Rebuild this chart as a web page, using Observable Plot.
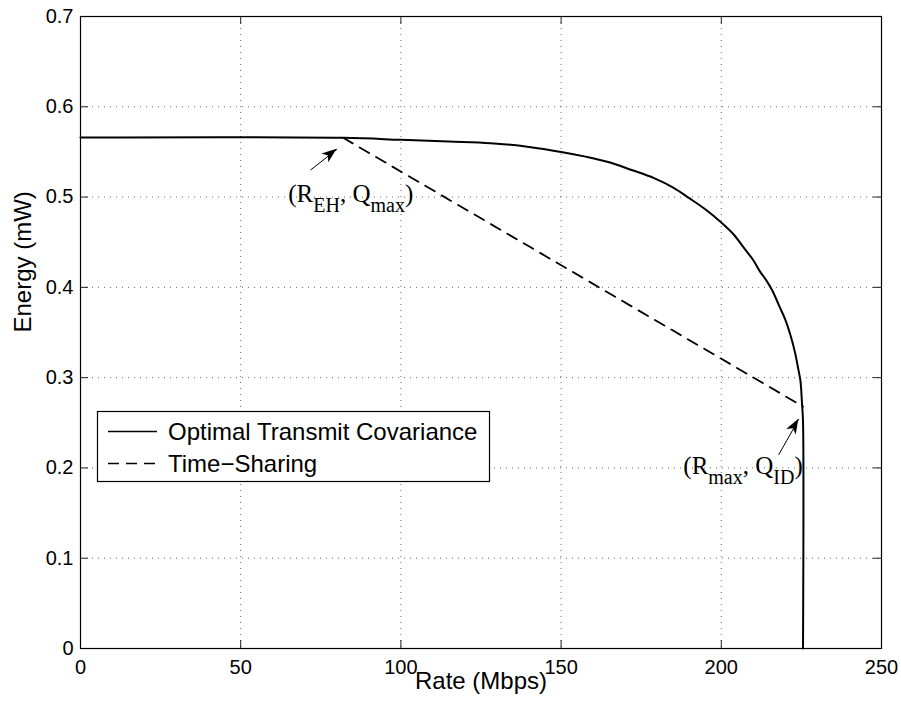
<!DOCTYPE html>
<html>
<head>
<meta charset="utf-8">
<script src="https://cdn.jsdelivr.net/npm/d3@7"></script>
<script src="https://cdn.jsdelivr.net/npm/@observablehq/plot@0.6"></script>
<style>
  html, body { margin: 0; padding: 0; background: #fff; }
  #wrap { position: relative; width: 901px; height: 702px; }
  #legend { position: absolute; left: 0; top: 0; pointer-events: none; }
</style>
</head>
<body>
<div id="wrap"></div>
<script>
// ---- data ----
const optRate   = [0, 82, 100, 115, 128, 140, 150, 158, 165, 172, 179, 185, 190, 195, 200, 204, 207, 210, 212, 214, 216, 218, 220, 221.5, 223, 224, 224.7, 225.2, 225.5, 225.5];
const optEnergy = [0.566, 0.5656, 0.5634, 0.5615, 0.5597, 0.5555, 0.550, 0.5445, 0.5385, 0.530, 0.521, 0.5105, 0.4988, 0.4865, 0.4718, 0.458, 0.444, 0.430, 0.418, 0.408, 0.396, 0.380, 0.364, 0.348, 0.328, 0.310, 0.2965, 0.2707, 0.252, 0];

const tsRate   = [82, 225.5];
const tsEnergy = [0.5656, 0.268];

const xTicks = [0, 50, 100, 150, 200, 250];
const xTickLabels = ["0", "50", "100", "150", "200", "250"];
const yTicks = [0, 0.1, 0.2, 0.3, 0.4, 0.5, 0.6, 0.7];
const yTickLabels = ["0", "0.1", "0.2", "0.3", "0.4", "0.5", "0.6", "0.7"];

const seriesNames = ["Optimal Transmit Covariance", "Time\u2212Sharing"];
const seriesDash = [null, "11,7"];
const xLabel = "Rate (Mbps)";
const yLabel = "Energy (mW)";

// annotation arrows (tail -> tip) and labels, in data units
const arrowX1 = [71.8, 217.9];
const arrowY1 = [0.530, 0.2145];
const arrowX2 = [80.1, 224.2];
const arrowY2 = [0.553, 0.254];
const annX = [65.0, 188.3];
const annY = [0.4936, 0.1929];
const annParts = [
  [["(R", false], ["EH", true], [", Q", false], ["max", true], [")", false]],
  [["(R", false], ["max", true], [", Q", false], ["ID", true], [")", false]]
];

// ---- tables built from the arrays ----
const opt = optRate.map((r, i) => ({r, e: optEnergy[i]}));
const ts = tsRate.map((r, i) => ({r, e: tsEnergy[i]}));
const arrows = arrowX1.map((x, i) => ({x1: x, y1: arrowY1[i], x2: arrowX2[i], y2: arrowY2[i]}));

const W = 901, H = 702;
const mL = 80, mR = 20, mT = 16, mB = 54;
const plotW = W - mL - mR, plotH = H - mT - mB;
const tickLen = 8;
const font = "'Liberation Sans', Arial, Helvetica, sans-serif";
const serif = "'Liberation Serif', 'Times New Roman', Times, serif";

const chart = Plot.plot({
  width: W, height: H,
  marginLeft: mL, marginRight: mR, marginTop: mT, marginBottom: mB,
  style: {fontFamily: font, fontSize: "20px", background: "#fff", color: "#000"},
  x: {domain: [0, 250]},
  y: {domain: [0, 0.7]},
  marks: [
    Plot.gridX(xTicks.slice(1, -1), {stroke: "#666", strokeOpacity: 1, strokeWidth: 1, strokeDasharray: "1,5"}),
    Plot.gridY(yTicks.slice(1, -1), {stroke: "#666", strokeOpacity: 1, strokeWidth: 1, strokeDasharray: "1,5"}),
    // inward ticks (MATLAB style), both sides
    Plot.ruleX(xTicks, {stroke: "#222", insetTop: plotH - tickLen}),
    Plot.ruleX(xTicks, {stroke: "#222", insetBottom: plotH - tickLen}),
    Plot.ruleY(yTicks, {stroke: "#222", insetRight: plotW - tickLen}),
    Plot.ruleY(yTicks, {stroke: "#222", insetLeft: plotW - tickLen}),
    Plot.axisX(xTicks, {tickSize: 0, tickPadding: 11, tickFormat: d => xTickLabels[xTicks.indexOf(d)], label: null, fontSize: 20}),
    Plot.axisY(yTicks, {tickSize: 0, tickPadding: 7, tickFormat: d => yTickLabels[yTicks.indexOf(d)], label: null, fontSize: 20}),
    Plot.text([xLabel], {text: d => d, frameAnchor: "bottom", dy: 40, fontSize: 24}),
    Plot.text([yLabel], {text: d => d, frameAnchor: "left", rotate: -90, dx: -57, fontSize: 24}),
    Plot.line(ts, {x: "r", y: "e", stroke: "#000", strokeWidth: 1.8, strokeDasharray: "11,8"}),
    Plot.line(opt, {x: "r", y: "e", stroke: "#000", strokeWidth: 2, curve: "catmull-rom"}),
    Plot.link(arrows, {x1: "x1", y1: "y1", x2: "x2", y2: "y2", stroke: "#000", strokeWidth: 1}),
    Plot.frame({stroke: "#000", strokeWidth: 1.2})
  ]
});

document.getElementById("wrap").appendChild(chart);

// scales from the plot
function scaleFn(name) {
  const s = chart.scale(name);
  if (s && typeof s.apply === "function") return v => s.apply(v);
  return d3.scaleLinear(s.domain, s.range);
}
const fx = scaleFn("x"), fy = scaleFn("y");
const svg = d3.select(chart);

// filled arrowheads at the arrow tips (positions through the plot's scales)
const heads = svg.append("g").attr("fill", "#000");
arrows.forEach(a => {
  const tx = fx(a.x2), ty = fy(a.y2), sx = fx(a.x1), sy = fy(a.y1);
  const ang = Math.atan2(ty - sy, tx - sx) * 180 / Math.PI;
  heads.append("path")
    .attr("d", "M0,0 L-15,-5.5 L-11,0 L-15,5.5 Z")
    .attr("transform", `translate(${tx},${ty}) rotate(${ang})`);
});

// annotation labels with subscripts
const g = svg.append("g").attr("font-family", serif).attr("fill", "#000").attr("text-anchor", "start");
annParts.forEach((parts, i) => {
  const t = g.append("text").attr("x", fx(annX[i])).attr("y", fy(annY[i])).attr("font-size", 25).attr("text-anchor", "start");
  let down = false;
  parts.forEach(([s, sub]) => {
    const sp = t.append("tspan").text(s);
    if (sub && !down) { sp.attr("dy", 10).attr("font-size", 20); down = true; }
    else if (!sub && down) { sp.attr("dy", -10); down = false; }
    else if (sub) sp.attr("font-size", 20);
  });
});

// legend (inside the axes, lower-left)
const lg = d3.create("svg").attr("id", "legend").attr("width", W).attr("height", H)
  .attr("font-family", font).attr("font-size", 24);
const box = {x: 97.5, y: 411.5, w: 392, h: 70};
lg.append("rect").attr("x", box.x).attr("y", box.y).attr("width", box.w).attr("height", box.h)
  .attr("fill", "#fff").attr("stroke", "#000").attr("stroke-width", 1.2);
const rowC = [431.5, 463.5];
seriesNames.forEach((name, i) => {
  lg.append("line").attr("x1", 108).attr("x2", 157).attr("y1", rowC[i]).attr("y2", rowC[i])
    .attr("stroke", "#000").attr("stroke-width", 1.5).attr("stroke-dasharray", seriesDash[i]);
  lg.append("text").attr("x", 168).attr("y", rowC[i] + 8.6).attr("fill", "#000").text(name);
});
document.getElementById("wrap").appendChild(lg.node());
</script>
</body>
</html>
